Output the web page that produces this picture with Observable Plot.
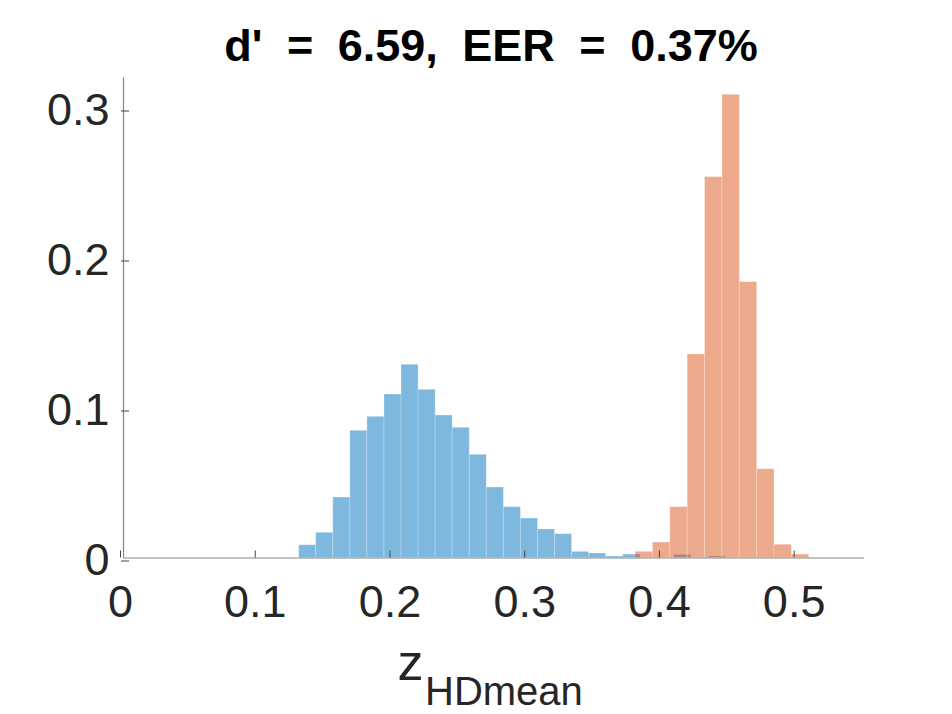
<!DOCTYPE html>
<html>
<head>
<meta charset="utf-8">
<script src="https://cdn.jsdelivr.net/npm/d3@7"></script>
<script src="https://cdn.jsdelivr.net/npm/@observablehq/plot@0.6"></script>
<style>
  html, body { margin: 0; padding: 0; background: #ffffff; }
  #chart { width: 952px; height: 714px; }
</style>
</head>
<body>
<div id="chart"></div>
<script>
// ---- data ----
const titleText = "d' = 6.59, EER = 0.37%";
const xLabelMain = "z";
const xLabelSub = "HDmean";

const xTicks = [0, 0.1, 0.2, 0.3, 0.4, 0.5];
const yTicks = [0, 0.1, 0.2, 0.3];
const xDomain = [0, 0.55];
const yDomain = [0, 0.32];

// genuine (blue) distribution: first bin edge, bin width, normalized counts
const blueFirstEdge = 0.1304;
const blueBinWidth = 0.01266;
const blueHeights = [0.0085, 0.0168, 0.0403, 0.0848, 0.0941, 0.1090, 0.1288, 0.1121,
  0.0950, 0.0868, 0.0688, 0.0470, 0.0339, 0.0263, 0.0190, 0.0159, 0.0041, 0.0030,
  0.0010, 0.0023, 0, 0, 0.0021, 0, 0.0010];

// impostor (orange) distribution
const orangeFirstEdge = 0.3801;
const orangeBinWidth = 0.01289;
const orangeHeights = [0.0041, 0.0103, 0.0339, 0.1357, 0.2539, 0.3088, 0.1839,
  0.0592, 0.0088, 0.0023];

function bins(first, w, hs) {
  return hs.map((h, i) => ({x1: first + i * w, x2: first + (i + 1) * w, h}))
           .filter(d => d.h > 0);
}
const blueBins = bins(blueFirstEdge, blueBinWidth, blueHeights);
const orangeBins = bins(orangeFirstEdge, orangeBinWidth, orangeHeights);

const font = "Liberation Sans, Arial, Helvetica, sans-serif";
const fmt = d => `${d}`;

const chart = Plot.plot({
  width: 952,
  height: 714,
  marginLeft: 123,
  marginRight: 88,
  marginTop: 77.5,
  marginBottom: 156.5,
  style: {fontFamily: font, background: "#ffffff", overflow: "visible"},
  x: {domain: xDomain},
  y: {domain: yDomain},
  marks: [
    Plot.rectY(blueBins, {x1: "x1", x2: "x2", y: "h", fill: "#0072BD", fillOpacity: 0.5,
      stroke: "#ffffff", strokeOpacity: 0.25, strokeWidth: 1}),
    Plot.rectY(orangeBins, {x1: "x1", x2: "x2", y: "h", fill: "#D95319", fillOpacity: 0.5,
      stroke: "#ffffff", strokeOpacity: 0.25, strokeWidth: 1}),
    Plot.ruleY([0], {stroke: "#858585", strokeWidth: 1.2}),
    Plot.ruleX([0], {stroke: "#858585", strokeWidth: 1.2}),
    Plot.axisX({ticks: xTicks, tickFormat: fmt, tickSize: -7, tickPadding: 34.5, dx: -3,
      fontSize: 45, stroke: "#444", fill: "#262626", label: null}),
    Plot.axisY({ticks: yTicks, tickFormat: fmt, tickSize: -8, tickPadding: 20, dy: 3, dx: -2,
      fontSize: 45, stroke: "#444", fill: "#262626", label: null}),
    Plot.text([titleText], {frameAnchor: "top", lineAnchor: "bottom", dy: -17.5, dx: -3,
      fontSize: 45, fontWeight: "bold", fill: "#000000"}),
    Plot.text([xLabelMain], {frameAnchor: "bottom", lineAnchor: "bottom", textAnchor: "start",
      dx: -96.5, dy: 121.5, fontSize: 52, fill: "#262626"}),
    Plot.text([xLabelSub], {frameAnchor: "bottom", lineAnchor: "bottom", textAnchor: "start",
      dx: -69, dy: 146.5, fontSize: 40, fill: "#262626"})
  ]
});
// MATLAB renders the title's spaces wider
d3.select(chart).selectAll("text")
  .filter(function() { return this.textContent === titleText; })
  .style("word-spacing", "12px");
document.getElementById("chart").appendChild(chart);
</script>
</body>
</html>
